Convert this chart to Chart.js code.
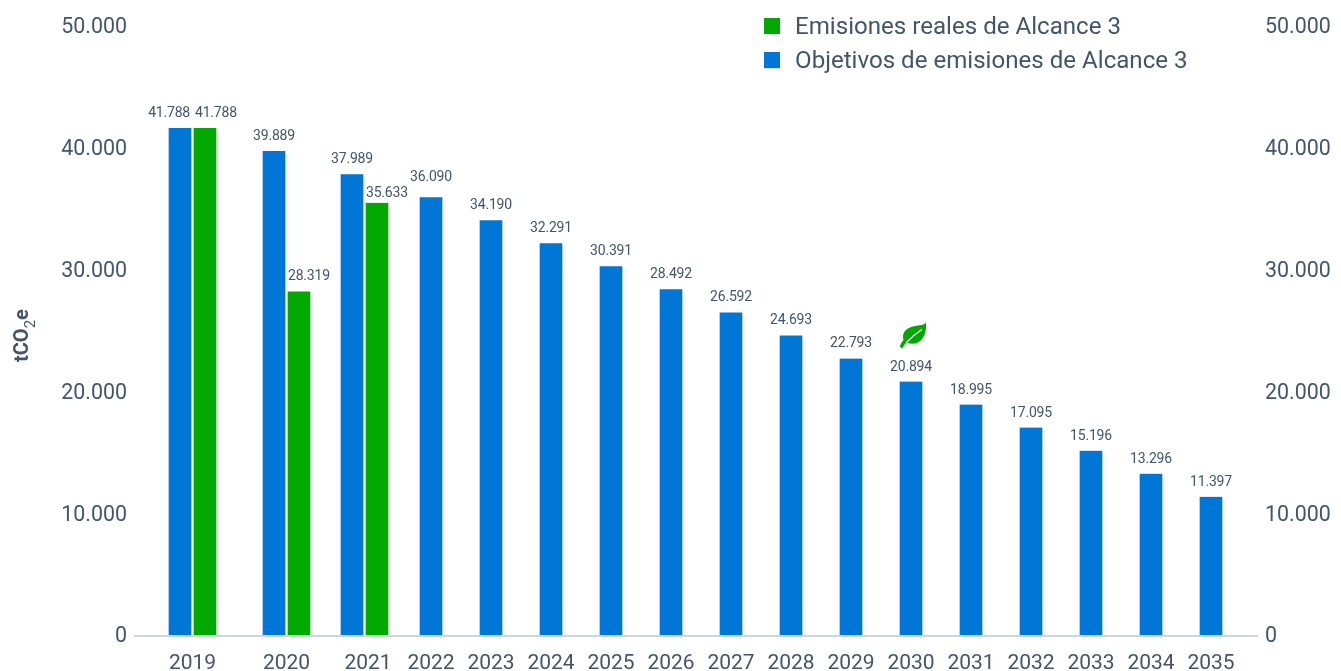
<!DOCTYPE html>
<html>
<head>
<meta charset="utf-8">
<style>
    html, body { margin: 0; padding: 0; background: #fff; }
    canvas { display: block; }
</style>
<script src="https://cdn.jsdelivr.net/npm/chart.js@4"></script>
</head>
<body>
<canvas id="chart" width="1341" height="671"></canvas>
<script>
const years = ['2019', '2020', '2021', '2022', '2023', '2024', '2025', '2026', '2027', '2028', '2029', '2030', '2031', '2032', '2033', '2034', '2035'];
const objetivos = [41788, 39889, 37989, 36090, 34190, 32291, 30391, 28492, 26592, 24693, 22793, 20894, 18995, 17095, 15196, 13296, 11397];
const reales = [41788, 28319, 35633, null, null, null, null, null, null, null, null, null, null, null, null, null, null];
const yTicks = [0, 10000, 20000, 30000, 40000, 50000];

const TEXT = '#44546a';
const BLUE = '#0076d6';
const GREEN = '#00a800';

// relative room before, between and after the year groups (the source axis is not evenly spaced)
const yearGaps = [57.5, 94, 78, 66.5, 60, 60, 60, 60, 60, 60, 60, 60, 60, 60, 60, 60, 60, 46];

function formatThousands(value) {
    return String(value).replace(/\B(?=(\d{3})+$)/g, '.');
}

class GappedCategoryScale extends Chart.CategoryScale {
    static id = 'gappedCategory';
    static defaults = {};
    getPixelForValue(value) {
        const index = typeof value === 'number' ? value : this.parse(value);
        const total = yearGaps.reduce((a, b) => a + b, 0);
        const before = yearGaps.slice(0, index + 1).reduce((a, b) => a + b, 0);
        return this.getPixelForDecimal(before / total);
    }
    getPixelForTick(index) {
        // the 2021 label sits a little right of its bars in the source
        return super.getPixelForTick(index) + (years[index] === '2021' ? 3.5 : 0);
    }
}
Chart.register(GappedCategoryScale);

const valueLabels = {
    id: 'valueLabels',
    afterDatasetsDraw(chart) {
        const ctx = chart.ctx;
        ctx.save();
        ctx.font = '14px Roboto';
        ctx.letterSpacing = '-0.2px';
        ctx.fillStyle = TEXT;
        ctx.textBaseline = 'middle';
        chart.data.datasets.forEach((dataset, d) => {
            chart.getDatasetMeta(d).data.forEach((bar, i) => {
                if (dataset.data[i] === null) return;
                let x = bar.x;
                let lift = 14.5;
                ctx.textAlign = 'center';
                if (d === 1) {
                    x = bar.x - bar.width / 2 + (i === 0 ? 2.5 : 1.5);
                    ctx.textAlign = 'left';
                } else if (i === 0) {
                    x = bar.x + bar.width / 2 - 2.5;
                    ctx.textAlign = 'right';
                }
                // these two labels dodge each other in the source
                if (d === 1 && years[i] === '2021') lift = 9.5;
                if (d === 0 && years[i] === '2022') lift = 19.5;
                ctx.fillText(formatThousands(dataset.data[i]), x, bar.y - lift);
            });
        });
        ctx.restore();
    }
};

// leaf mark above the 2030 target
const leafMark = {
    id: 'leafMark',
    afterDatasetsDraw(chart) {
        const bar = chart.getDatasetMeta(0).data[years.indexOf('2030')];
        const ctx = chart.ctx;
        ctx.save();
        ctx.translate(bar.x + 2, bar.y - 46);
        ctx.fillStyle = GREEN;
        ctx.fill(new Path2D('M12.8-13.5C12 -9.5 4 -11 -3 -8C-9 -5.5 -11 -1 -9.5 4.5C-11 6.5 -13 9 -13 11C-12 13 -11 13 -10 12C-9 10 -8 8.5 -6.5 7C-1 9.5 6 8.5 9.5 3C13 -2 13.5 -8 12.8 -13.5Z'));
        ctx.strokeStyle = '#fff';
        ctx.lineWidth = 1.2;
        ctx.beginPath();
        ctx.moveTo(-6.5, 7);
        ctx.quadraticCurveTo(1, -1, 9, -6);
        ctx.stroke();
        ctx.restore();
    }
};

// y axis unit, a plain scale title cannot do the thin subscript
const unitTitle = {
    id: 'unitTitle',
    afterDraw(chart) {
        const ctx = chart.ctx;
        ctx.save();
        ctx.translate(27.5, 362);
        ctx.rotate(-Math.PI / 2);
        ctx.fillStyle = TEXT;
        ctx.textBaseline = 'alphabetic';
        ctx.textAlign = 'left';
        ctx.font = 'bold 20px Roboto';
        ctx.fillText('tCO', 0, 0);
        let x = ctx.measureText('tCO').width;
        ctx.font = '15px Roboto';
        ctx.fillText('2', x, 7);
        x += ctx.measureText('2').width;
        ctx.font = 'bold 20px Roboto';
        ctx.fillText('e', x, 0);
        ctx.restore();
    }
};

// legend goes top right, printed y labels sit 2px lower than canvas "middle" gives
const placeBoxes = {
    id: 'placeBoxes',
    afterLayout(chart) {
        chart.legend.left = 754;
        chart.legend.top = 6;
        chart.scales.x.top += 1;
        [chart.scales.y, chart.scales.yRight].forEach(scale => {
            scale.top += 2;
            scale.bottom += 2;
            scale.configure();
        });
    }
};

// swatch narrower than its slot, so the legend text stands further off
function legendSwatch(color) {
    const c = document.createElement('canvas');
    c.width = 19;
    c.height = 20;
    const g = c.getContext('2d');
    g.fillStyle = color;
    g.fillRect(0, 0, 16, 16);
    return c;
}

new Chart(document.getElementById('chart'), {
    type: 'bar',
    data: {
        labels: years,
        datasets: [
            { label: 'Objetivos de emisiones de Alcance 3', data: objetivos, backgroundColor: BLUE, yAxisID: 'yBars' },
            { label: 'Emisiones reales de Alcance 3', data: reales, backgroundColor: GREEN, yAxisID: 'yBars' }
        ]
    },
    options: {
        responsive: false,
        animation: false,
        layout: { padding: { top: 26, left: 0, right: 0, bottom: 0 } },
        datasets: {
            bar: {
                skipNull: true,
                barThickness: 25,
                borderColor: '#fff',
                borderWidth: { top: 0, bottom: 0, left: 1.5, right: 1.5 },
                borderSkipped: false
            }
        },
        scales: {
            x: {
                type: 'gappedCategory',
                grid: { display: false },
                border: { color: '#d0d5dd', width: 2 },
                ticks: {
                    autoSkip: false,
                    maxRotation: 0,
                    color: TEXT,
                    font: { family: 'Roboto', size: 21 },
                    padding: 7
                },
                afterFit(scale) { scale.height = 36; }
            },
            y: {
                position: 'left',
                min: 0,
                max: 50000,
                grid: { display: false },
                border: { display: false },
                afterBuildTicks(scale) { scale.ticks = yTicks.map(value => ({ value })); },
                ticks: {
                    color: TEXT,
                    font: { family: 'Roboto', size: 21.4 },
                    padding: 0,
                    callback: formatThousands
                },
                afterFit(scale) { scale.width = 135; }
            },
            yRight: {
                position: 'right',
                min: 0,
                max: 50000,
                grid: { display: false },
                border: { display: false },
                afterBuildTicks(scale) { scale.ticks = yTicks.map(value => ({ value })); },
                ticks: {
                    color: TEXT,
                    font: { family: 'Roboto', size: 21.4 },
                    padding: 0,
                    callback: formatThousands
                },
                afterFit(scale) { scale.width = 84; }
            },
            // the bars in the source sit a hair lower than the printed tick labels
            yBars: {
                display: false,
                min: 0,
                max: 50200
            }
        },
        plugins: {
            tooltip: { enabled: false },
            legend: {
                position: 'chartArea',
                align: 'start',
                reverse: true,
                labels: {
                    color: TEXT,
                    font: { family: 'Roboto', size: 24.1 },
                    usePointStyle: true,
                    pointStyleWidth: 19,
                    padding: 10,
                    generateLabels(chart) {
                        return chart.data.datasets.map((dataset, i) => ({
                            text: dataset.label,
                            fontColor: TEXT,
                            pointStyle: legendSwatch(dataset.backgroundColor),
                            lineWidth: 0,
                            datasetIndex: i
                        }));
                    }
                }
            }
        }
    },
    plugins: [valueLabels, leafMark, unitTitle, placeBoxes]
});
</script>
</body>
</html>
